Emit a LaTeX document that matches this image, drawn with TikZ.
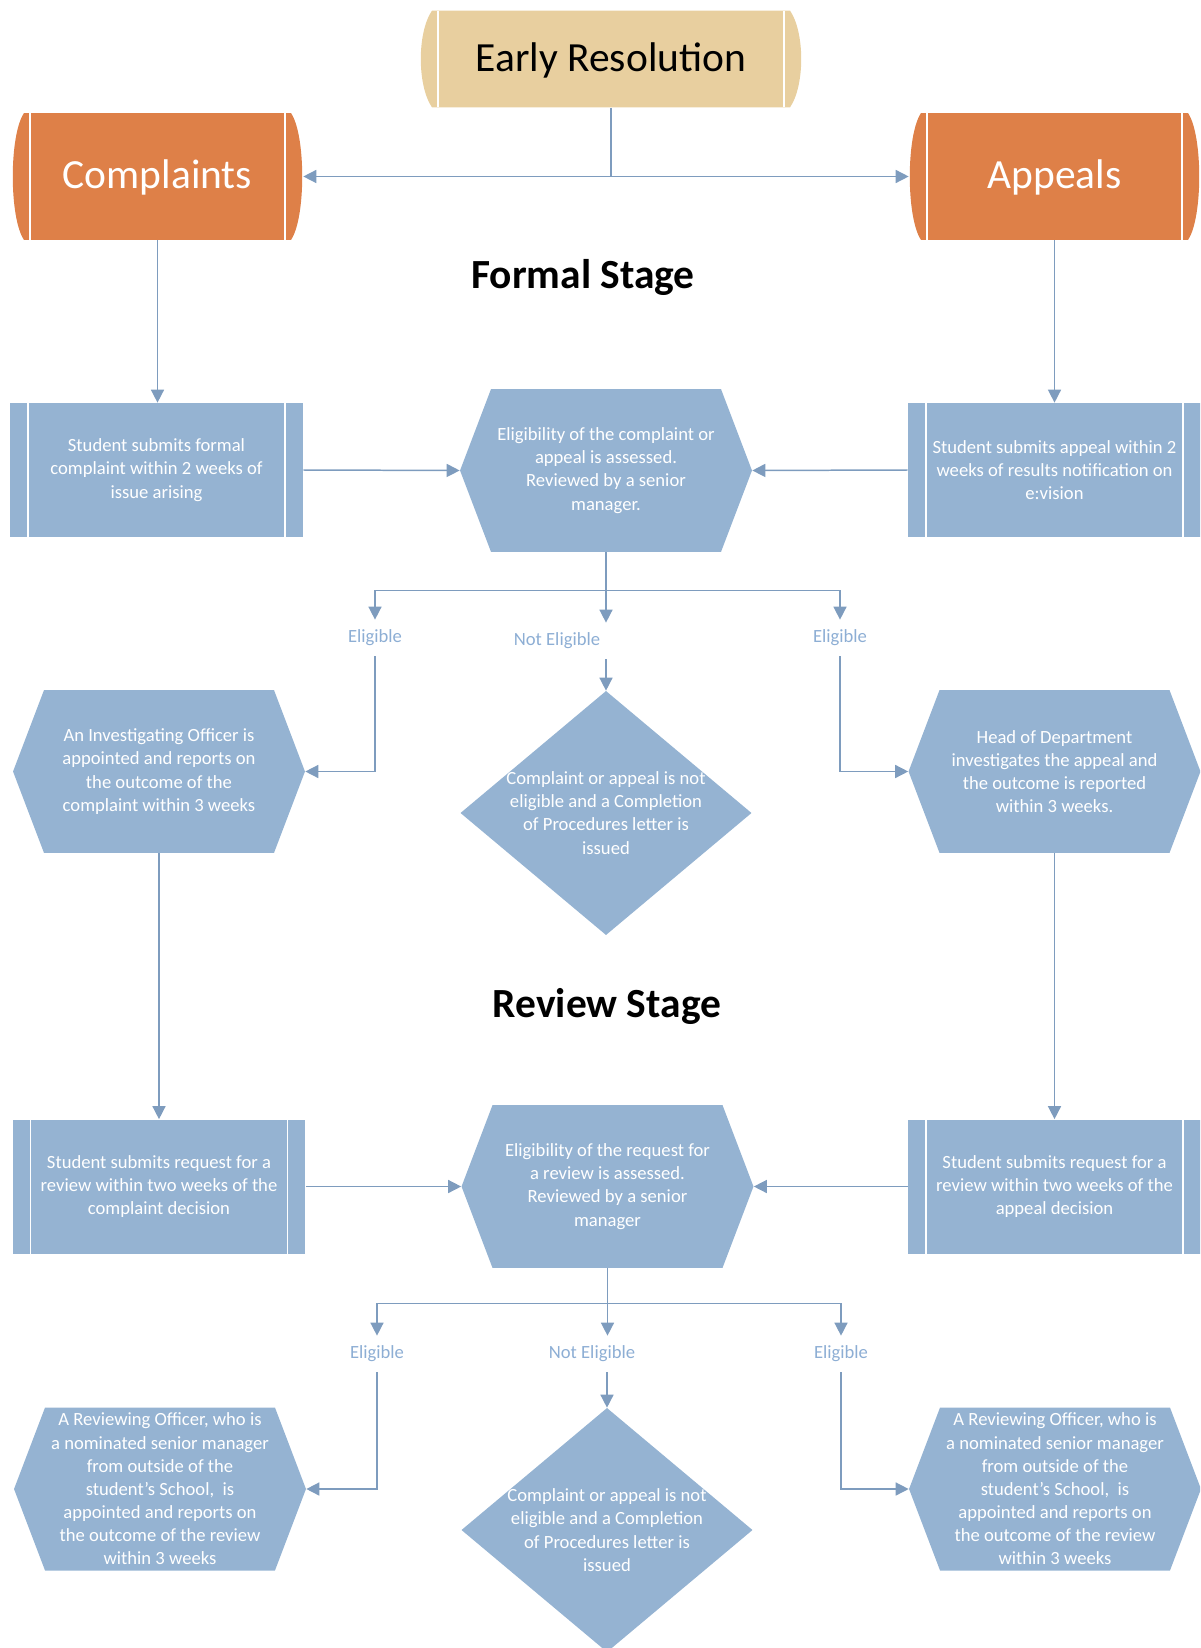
\documentclass[tikz,border=0pt]{standalone}
\usepackage{fontspec}
\setmainfont{Carlito}
\usetikzlibrary{arrows.meta, positioning, calc}
\definecolor{termtan}{RGB}{232,207,159}
\definecolor{termorange}{RGB}{222,128,72}
\definecolor{boxblue}{RGB}{149,179,210}
\definecolor{linkblue}{RGB}{126,156,190}
\definecolor{labelblue}{RGB}{141,174,212}
\newcommand{\bodyfont}{\fontsize{10.6}{13.2}\selectfont}
\newcommand{\bigfont}{\fontsize{23.6}{28}\selectfont}
\newcommand{\ppb}{path picture bounding box}

\tikzset{
  link/.style={linkblue, line width=0.85pt},
  termbox/.style={rectangle, inner sep=0pt, align=center, font=\bigfont, text depth=0.08cm,
    path picture={
      \fill[#1] ($(\ppb.north west)+(12,0)$) -- ($(\ppb.north east)+(-12,0)$)
        .. controls ($(\ppb.north east)+(3,22)$) and ($(\ppb.south east)+(3,-22)$) .. ($(\ppb.south east)+(-12,0)$)
        -- ($(\ppb.south west)+(12,0)$)
        .. controls ($(\ppb.south west)+(-3,-22)$) and ($(\ppb.north west)+(-3,22)$) .. cycle;
      \draw[white, line width=1.1pt] ($(\ppb.north west)+(18,0)$) -- ($(\ppb.south west)+(18,0)$);
      \draw[white, line width=1.1pt] ($(\ppb.north east)+(-18,0)$) -- ($(\ppb.south east)+(-18,0)$);}},
  procbox/.style={rectangle, fill=boxblue, inner sep=0pt, minimum width=5.86cm, minimum height=2.68cm,
    align=center, text=white, font=\bodyfont,
    path picture={
      \draw[white, line width=1.1pt] ($(\ppb.north west)+(18,0)$) -- ($(\ppb.south west)+(18,0)$);
      \draw[white, line width=1.1pt] ($(\ppb.north east)+(-18,0)$) -- ($(\ppb.south east)+(-18,0)$);}},
  hexbox/.style={rectangle, inner sep=0pt, minimum width=5.84cm, minimum height=3.26cm,
    align=center, text=white, font=\bodyfont,
    path picture={
      \fill[boxblue] (\ppb.west) -- ($(\ppb.north west)+(31,0)$) -- ($(\ppb.north east)+(-31,0)$)
        -- (\ppb.east) -- ($(\ppb.south east)+(-31,0)$) -- ($(\ppb.south west)+(31,0)$) -- cycle;}},
  dbox/.style={rectangle, inner sep=0pt, minimum width=5.82cm, minimum height=4.88cm,
    align=center, text=white, font=\bodyfont,
    path picture={
      \fill[boxblue] (\ppb.west) -- (\ppb.north) -- (\ppb.east) -- (\ppb.south) -- cycle;}},
  branchlabel/.style={rectangle, inner sep=0pt, minimum height=0.72cm, text=labelblue, font=\bodyfont},
  stagelabel/.style={font=\bigfont\bfseries}
}

\begin{document}
\begin{tikzpicture}[x=0.02cm, y=-0.02cm, >={Triangle[length=7.4pt,width=7.4pt]}]
  \useasboundingbox (0,0) rectangle (1200,1648);
  \clip (0,0) rectangle (1200,1648);

  % top row
  \node[termbox=termtan, minimum width=7.64cm, minimum height=1.94cm] (early) at (611,59) {Early Resolution};
  \node[termbox=termorange, text=white, minimum width=5.82cm, minimum height=2.54cm] (compl) at (157.5,176.5) {Complaints};
  \node[termbox=termorange, text=white, minimum width=5.82cm, minimum height=2.54cm] (appeal) at (1054.5,176.5) {Appeals};

  % formal stage
  \node[stagelabel] (formal) at (583,277) {Formal Stage};
  \node[procbox] (fcomp) at (156.5,470) {Student submits formal\\complaint within 2 weeks of\\issue arising};
  \node[hexbox] (felig) at (606,470.5) {Eligibility of the complaint or\\appeal is assessed.\\Reviewed by a senior\\manager.};
  \node[procbox] (fapp) at (1054.5,470) {Student submits appeal within 2\\weeks of results notification on\\e:vision};

  \node[branchlabel] (fyesl) at (375,638) {Eligible};
  \node[branchlabel] (fno) at (557,641) {Not Eligible};
  \node[branchlabel] (fyesr) at (840,638) {Eligible};

  \node[hexbox] (invest) at (159,771.5) {An Investigating Officer is\\appointed and reports on\\the outcome of the\\complaint within 3 weeks};
  \node[dbox] (fnotel) at (606,813) {Complaint or appeal is not\\eligible and a Completion\\of Procedures letter is\\issued};
  \node[hexbox] (hod) at (1054.5,771.5) {Head of Department\\investigates the appeal and\\the outcome is reported\\within 3 weeks.};

  % review stage
  \node[stagelabel] (review) at (607,1006) {Review Stage};
  \node[procbox] (rcomp) at (159,1186.5) {Student submits request for a\\review within two weeks of the\\complaint decision};
  \node[hexbox] (relig) at (607.5,1186.5) {Eligibility of the request for\\a review is assessed.\\Reviewed by a senior\\manager};
  \node[procbox] (rapp) at (1054.5,1186.5) {Student submits request for a\\review within two weeks of the\\appeal decision};

  \node[branchlabel] (ryesl) at (377,1354) {Eligible};
  \node[branchlabel] (rno) at (592,1354) {Not Eligible};
  \node[branchlabel] (ryesr) at (841,1354) {Eligible};

  \node[hexbox] (rofl) at (160,1489) {A Reviewing Officer, who is\\a nominated senior manager\\from outside of the\\student's School,~ is\\appointed and reports on\\the outcome of the review\\within 3 weeks};
  \node[dbox] (rnotel) at (607,1530) {Complaint or appeal is not\\eligible and a Completion\\of Procedures letter is\\issued};
  \node[hexbox] (rofr) at (1055,1489) {A Reviewing Officer, who is\\a nominated senior manager\\from outside of the\\student's School,~ is\\appointed and reports on\\the outcome of the review\\within 3 weeks};

  % connectors, top
  \draw[link] (early.south) -- (early.south |- compl.east);
  \draw[link, <->] (compl.east) -- (appeal.west);
  \draw[link, ->] (compl.south) -- (compl.south |- fcomp.north);
  \draw[link, ->] (appeal.south) -- (appeal.south |- fapp.north);
  \draw[link, ->] (fcomp.east) -- (felig.west);
  \draw[link, ->] (fapp.west) -- (felig.east);

  % connectors, formal branches
  \coordinate (fsplit) at ($(felig.south)+(0,38)$);
  \draw[link, ->] (felig.south) -- (felig.south |- fno.north);
  \draw[link, ->] (fsplit) -| (fyesl.north);
  \draw[link, ->] (fsplit) -| (fyesr.north);
  \draw[link, ->] (fyesl.south) |- (invest.east);
  \draw[link, ->] (fyesr.south) |- (hod.west);
  \draw[link, ->] (fnotel.north |- fno.south) -- (fnotel.north);
  \draw[link, ->] (invest.south) -- (invest.south |- rcomp.north);
  \draw[link, ->] (hod.south) -- (hod.south |- rapp.north);

  % connectors, review
  \draw[link, ->] (rcomp.east) -- (relig.west);
  \draw[link, ->] (rapp.west) -- (relig.east);
  \coordinate (rsplit) at ($(relig.south)+(0,35)$);
  \draw[link, ->] (relig.south) -- (relig.south |- rno.north);
  \draw[link, ->] (rsplit) -| (ryesl.north);
  \draw[link, ->] (rsplit) -| (ryesr.north);
  \draw[link, ->] (ryesl.south) |- (rofl.east);
  \draw[link, ->] (ryesr.south) |- (rofr.west);
  \draw[link, ->] (rnotel.north |- rno.south) -- (rnotel.north);
\end{tikzpicture}
\end{document}
